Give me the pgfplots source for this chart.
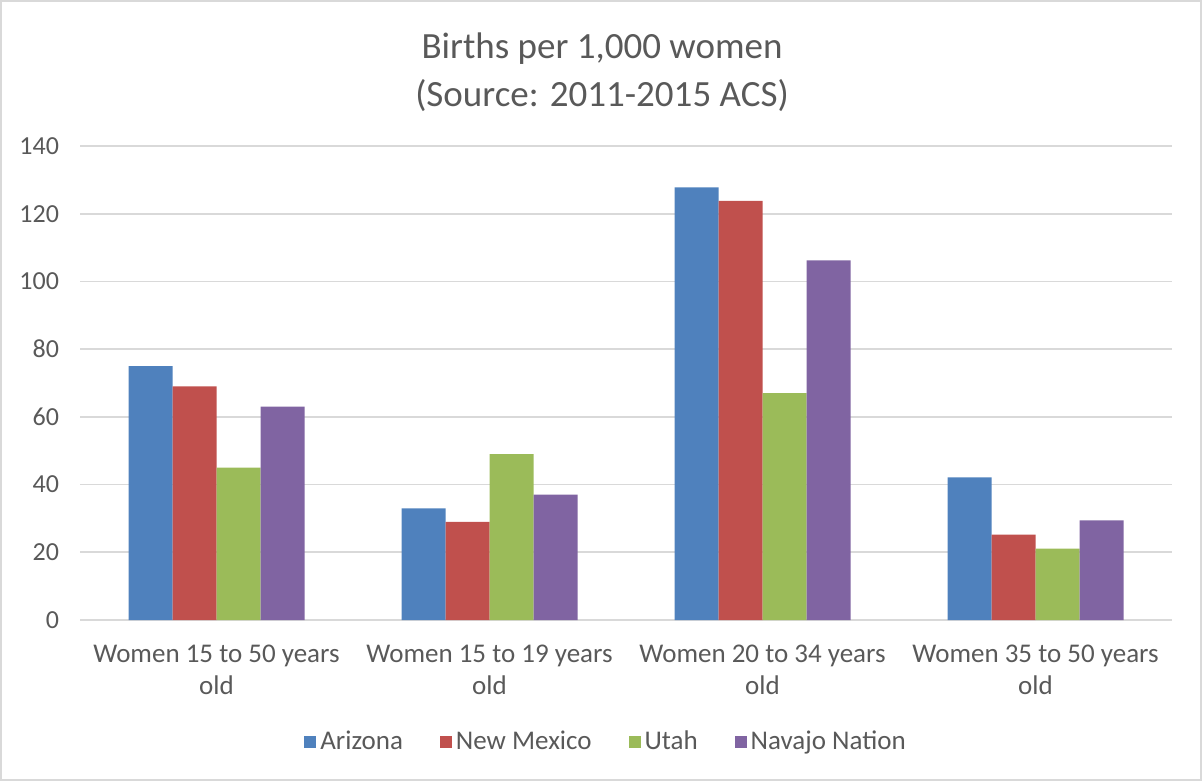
\documentclass[border=0pt]{standalone}
\usepackage{fontspec}
\setmainfont{Carlito}
\usepackage{pgfplots}
\pgfplotsset{compat=1.18}
\definecolor{azBlue}{HTML}{4F81BD}
\definecolor{nmRed}{HTML}{C0504D}
\definecolor{utGreen}{HTML}{9BBB59}
\definecolor{nnPurple}{HTML}{8064A2}
\definecolor{txtGray}{HTML}{595959}
\definecolor{gridGray}{HTML}{D9D9D9}

\begin{document}
\begin{tikzpicture}
\draw[color=gridGray, line width=1pt] (0.5pt,0.5pt) rectangle (600.5pt,390pt);
\begin{axis}[
    at={(40pt,80.5pt)},
    anchor=south west,
    scale only axis,
    width=546pt,
    height=237pt,
    ybar=0pt,
    bar width=22pt,
    xmin=-0.5, xmax=3.5,
    ymin=0, ymax=140,
    ytick={0,20,...,140},
    xtick={0,1,2,3},
    xticklabels={Women 15 to 50 years\\old, Women 15 to 19 years\\old, Women 20 to 34 years\\old, Women 35 to 50 years\\old},
    xticklabel style={align=center, font=\fontsize{13.5pt}{16.2pt}\selectfont, text=txtGray, yshift=-9pt},
    yticklabel style={font=\fontsize{13pt}{15pt}\selectfont, text=txtGray, xshift=-7pt},
    /pgf/number format/assume math mode=true,
    major tick length=0pt,
    ymajorgrids=true,
    grid style={draw=gridGray, line width=0.8pt},
    axis x line*=bottom,
    axis y line*=left,
    y axis line style={draw=none},
    x axis line style={draw=gridGray, line width=0.8pt},
    title={Births per 1,000 women\\(Source: 2011-2015 ACS)},
    title style={at={(0.478,1.13)}, anchor=center, align=center, font=\fontsize{18.5pt}{24pt}\selectfont, text=txtGray},
    legend columns=4,
    legend style={at={(0.4826,-0.257)}, anchor=center, draw=none, fill=none, font=\fontsize{13.5pt}{15pt}\selectfont, text=txtGray,
        /tikz/every even column/.append style={column sep=16.5pt}},
    legend image code/.code={\fill[#1] (0pt,-3pt) rectangle (6pt,3pt);},
]
\addplot[fill=azBlue, draw=none] coordinates {(0,75) (1,33) (2,127.8) (3,42.1)};
\addlegendentry{Arizona}
\addplot[fill=nmRed, draw=none] coordinates {(0,69) (1,29) (2,123.8) (3,25.2)};
\addlegendentry{New Mexico}
\addplot[fill=utGreen, draw=none] coordinates {(0,45) (1,49) (2,67) (3,21.1)};
\addlegendentry{Utah}
\addplot[fill=nnPurple, draw=none] coordinates {(0,63) (1,37) (2,106.2) (3,29.4)};
\addlegendentry{Navajo Nation}
\end{axis}
\end{tikzpicture}
\end{document}
